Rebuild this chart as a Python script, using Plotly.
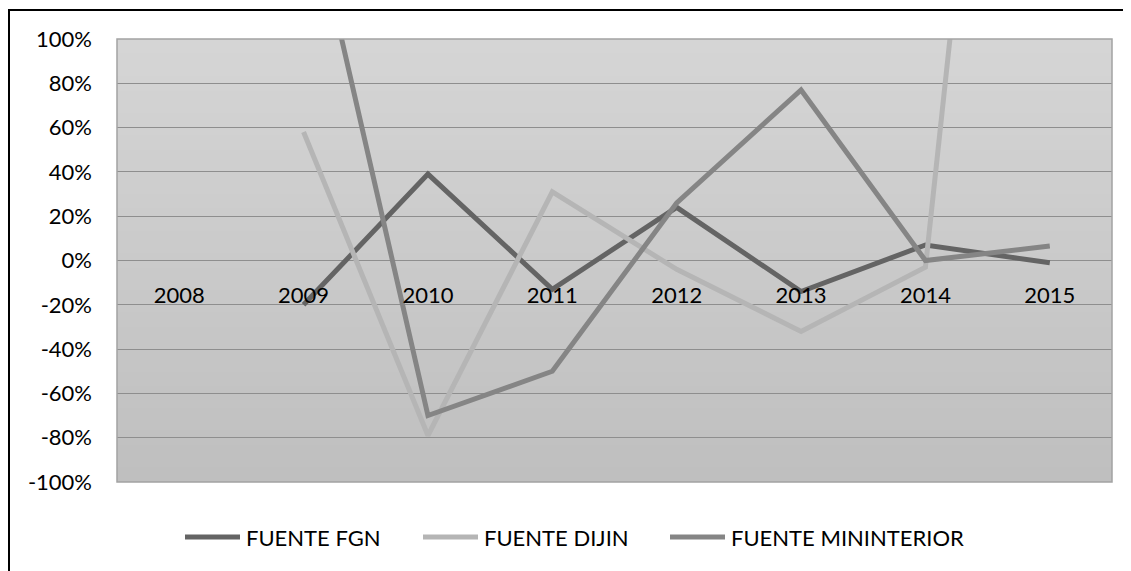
import plotly.graph_objects as go

years = ["2008", "2009", "2010", "2011", "2012", "2013", "2014", "2015"]
fgn = [None, -0.20, 0.39, -0.13, 0.24, -0.14, 0.07, -0.01]
dijin = [None, 0.58, -0.79, 0.31, -0.04, -0.32, -0.03, 5.20]
mininterior = [None, 1.75, -0.70, -0.50, 0.26, 0.77, 0.00, 0.065]
y_ticks = [-1.0, -0.8, -0.6, -0.4, -0.2, 0.0, 0.2, 0.4, 0.6, 0.8, 1.0]

series = [
    ("FUENTE FGN", fgn, "#646464"),
    ("FUENTE DIJIN", dijin, "#b5b5b5"),
    ("FUENTE MININTERIOR", mininterior, "#858585"),
]

# la página añade 8 px de margen al cuerpo: se descuenta aquí
OFF = 8
W, H = 1131 - OFF, 571 - OFF
L, T = 117 - OFF, 39 - OFF
R, B = W - (1112 - OFF), H - (482 - OFF)
pw, ph = W - L - R, H - T - B


def px_x(px):
    # px en coordenadas de la página
    return (px - OFF - L) / pw


def px_y(py):
    return (H - B - (py - OFF)) / ph


fig = go.Figure()
for name, vals, col in series:
    fig.add_trace(go.Scatter(x=years, y=vals, mode="lines", name=name,
                             line=dict(color=col, width=5), showlegend=False))

# fondo con degradado (rectángulos superpuestos)
shapes = []
n = 60
top, bot = (213, 213, 213), (191, 191, 191)
for i in range(n):
    f = i / (n - 1)
    c = tuple(round(top[k] + (bot[k] - top[k]) * f) for k in range(3))
    shapes.append(dict(type="rect", xref="paper", yref="paper", x0=0, x1=1,
                       y0=0, y1=1 - i / n, layer="below",
                       line_width=0, fillcolor="rgb(%d,%d,%d)" % c))
# borde del área de trazado
shapes.append(dict(type="rect", xref="paper", yref="paper", x0=0, x1=1, y0=0, y1=1,
                   line=dict(color="#a3a3a3", width=1.5), layer="above"))
# marco exterior
shapes.append(dict(type="rect", xref="paper", yref="paper",
                   x0=px_x(OFF + 1), x1=px_x(1150), y0=px_y(600), y1=px_y(OFF + 2),
                   line=dict(color="#000000", width=2)))

# leyenda manual (muestra de línea larga como en Excel)
annotations = []
leg_x = [185, 423, 670]
for (name, vals, col), x0 in zip(series, leg_x):
    shapes.append(dict(type="line", xref="paper", yref="paper",
                       x0=px_x(x0), x1=px_x(x0 + 55), y0=px_y(537), y1=px_y(537),
                       line=dict(color=col, width=5)))
    annotations.append(dict(text=name, xref="paper", yref="paper", showarrow=False,
                            x=px_x(x0 + 59), y=px_y(537), xanchor="left",
                            yanchor="middle", font=dict(size=22)))

fig.update_layout(
    width=W, height=H,
    margin=dict(l=L, r=R, t=T, b=B),
    paper_bgcolor="white", plot_bgcolor="rgba(0,0,0,0)",
    font=dict(family="Lato, Arial, sans-serif", size=22, color="#000000"),
    shapes=shapes, annotations=annotations,
    showlegend=False,
    xaxis=dict(type="category", range=[-0.5, 7.5], anchor="free", position=0.5,
               showgrid=False, showline=False, zeroline=False, ticks="",
               ticklabelstandoff=19, tickfont=dict(size=22), automargin=False),
    yaxis=dict(range=[-1, 1], tickvals=y_ticks,
               ticktext=["%d%%" % round(v * 100) for v in y_ticks],
               showgrid=True, gridcolor="#8e8e8e", gridwidth=1, zeroline=False,
               showline=False, ticks="", ticklabelstandoff=24,
               tickfont=dict(size=22), automargin=False),
)

fig.write_html("out.html")
